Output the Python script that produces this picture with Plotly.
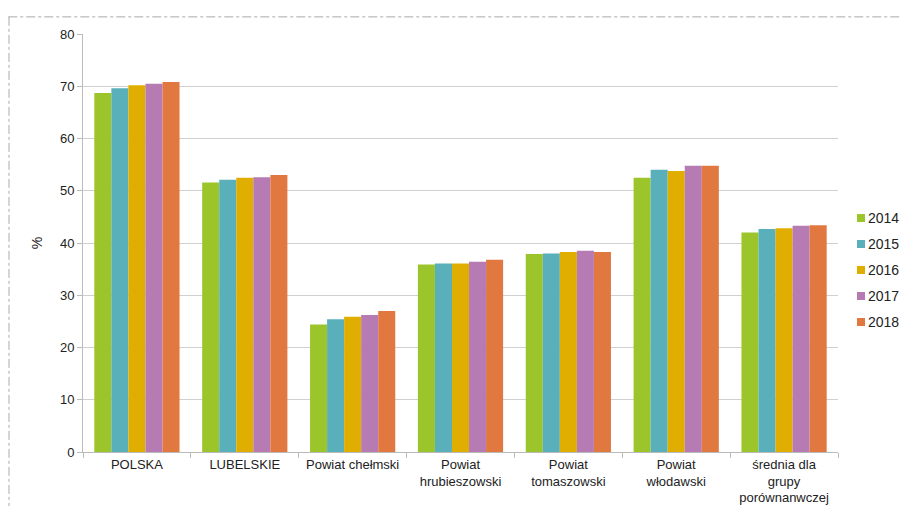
import plotly.graph_objects as go

categories = ["POLSKA", "LUBELSKIE", "Powiat chełmski", "Powiat<br>hrubieszowski",
              "Powiat<br>tomaszowski", "Powiat<br>włodawski", "średnia dla<br>grupy<br>porównanwczej"]
years = ["2014", "2015", "2016", "2017", "2018"]
v2014 = [68.7, 51.6, 24.4, 35.9, 37.9, 52.5, 42.0]
v2015 = [69.6, 52.1, 25.4, 36.1, 38.0, 54.0, 42.7]
v2016 = [70.2, 52.5, 25.9, 36.1, 38.3, 53.8, 42.8]
v2017 = [70.5, 52.6, 26.2, 36.4, 38.5, 54.8, 43.3]
v2018 = [70.8, 53.0, 27.0, 36.8, 38.3, 54.8, 43.4]
colors = ["#9BC52A", "#59B0BA", "#E0AE00", "#B77BB4", "#E07840"]

fig = go.Figure()
for name, vals, col in zip(years, [v2014, v2015, v2016, v2017, v2018], colors):
    fig.add_trace(go.Bar(x=categories, y=vals, name=name, marker_color=col,
                         marker_line_width=0, showlegend=False))

# plot area is 755 x 418 px; helpers to place things in pixels
PW, PH = 755, 418
def px_x(p):
    return p / PW
def px_y(p):
    return 1 - p / PH

shapes = [
    # dash-dot frame (top and left edges)
    dict(type="line", xref="paper", yref="paper", x0=-0.099, x1=1.2, y0=1.041, y1=1.041,
         line=dict(color="#aaa", width=1, dash="dashdot")),
    dict(type="line", xref="paper", yref="paper", x0=-0.098, x1=-0.098, y0=1.041, y1=-0.2,
         line=dict(color="#aaa", width=1, dash="dashdot")),
]
annotations = []
# hand-drawn legend (plotly's own legend gets clipped at the right edge)
for i, (yr, col) in enumerate(zip(years, colors)):
    yc = 184 + 26 * i
    shapes.append(dict(type="rect", xref="paper", yref="paper",
                       x0=px_x(774), x1=px_x(782), y0=px_y(yc - 4), y1=px_y(yc + 4),
                       fillcolor=col, line=dict(width=0)))
    annotations.append(dict(xref="paper", yref="paper", x=px_x(783), y=px_y(yc),
                            xanchor="left", yanchor="middle", showarrow=False,
                            text=yr, font=dict(size=14)))

# page body has an 8px margin, so the figure is shifted by 8px;
# keep the figure inside the visible page so nothing is clipped
fig.update_layout(
    width=893, height=498,
    margin=dict(l=75, r=63, t=26, b=54, autoexpand=False),
    plot_bgcolor="white", paper_bgcolor="white",
    barmode="group", bargap=0.21, bargroupgap=0,
    font=dict(family="Liberation Sans, Arial", size=13, color="#222"),
    xaxis=dict(showline=True, linecolor="#bbb", ticks="outside", tickson="boundaries",
               ticklen=5, tickcolor="#bbb", tickfont=dict(size=13)),
    yaxis=dict(range=[0, 80], dtick=10, showgrid=True, gridcolor="#d0d0d0",
               showline=True, linecolor="#bbb", ticks="outside", ticklen=5, tickcolor="#bbb",
               title=dict(text="%", standoff=14, font=dict(size=14)), zeroline=False,
               tickfont=dict(size=13)),
    shapes=shapes,
    annotations=annotations,
)

fig.write_html("out.html")
